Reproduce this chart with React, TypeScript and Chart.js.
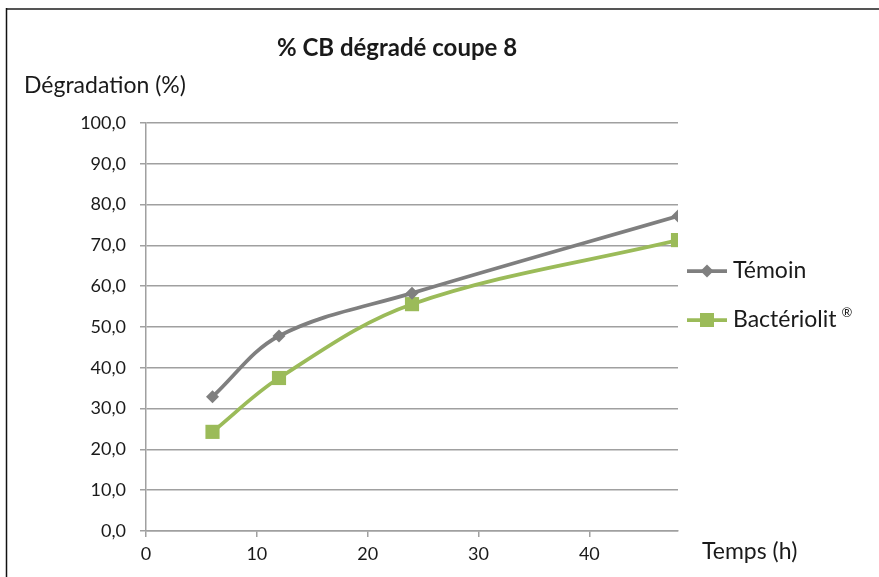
import React, { useEffect, useRef } from 'react';
import { Chart, registerables } from 'chart.js';

Chart.register(...registerables);

const chartTitle = '% CB dégradé coupe 8';
const yAxisTitle = 'Dégradation (%)';
const xAxisTitle = 'Temps (h)';
const hours = [6, 12, 24, 48];
const temoin = [32.9, 47.8, 58.3, 77.2];
const bacteriolit = [24.3, 37.5, 55.6, 71.3];
const seriesNames = ['Témoin', 'Bactériolit'];
const xTickValues = [0, 10, 20, 30, 40];

const GRAY = '#7f7f7f';
const GREEN = '#9bbb59';
const FONT = 'Lato, "Open Sans", sans-serif';
const TEXT = '#1a1a1a';

const overlay = {
  id: 'overlay',
  afterDraw(chart: any) {
    const ctx = chart.ctx;
    ctx.save();
    // frame
    ctx.strokeStyle = '#555';
    ctx.lineWidth = 2;
    ctx.beginPath();
    ctx.moveTo(6, 9);
    ctx.lineTo(879, 9);
    ctx.stroke();
    ctx.strokeStyle = '#111';
    ctx.lineWidth = 1.5;
    ctx.beginPath();
    ctx.moveTo(6.5, 8);
    ctx.lineTo(6.5, 577);
    ctx.stroke();

    ctx.fillStyle = TEXT;
    ctx.textBaseline = 'middle';
    // title
    ctx.font = `bold 24px ${FONT}`;
    ctx.textAlign = 'center';
    ctx.fillText(chartTitle, 397, 48);
    // axis titles
    ctx.font = `23px ${FONT}`;
    ctx.textAlign = 'left';
    ctx.fillText(yAxisTitle, 24, 86);
    ctx.fillText(xAxisTitle, 702, 552);

    // legend
    const items = [
      { name: seriesNames[0], color: GRAY, y: 271, style: 'rectRot', r: 6.5 },
      { name: seriesNames[1], color: GREEN, y: 320, style: 'rect', r: 10 },
    ];
    items.forEach((it, i) => {
      ctx.strokeStyle = it.color;
      ctx.lineWidth = 3.75;
      ctx.beginPath();
      ctx.moveTo(687, it.y);
      ctx.lineTo(727, it.y);
      ctx.stroke();
      ctx.fillStyle = it.color;
      if (it.style === 'rect') {
        ctx.fillRect(707 - 7, it.y - 7, 14, 14);
      } else {
        ctx.beginPath();
        ctx.moveTo(707, it.y - it.r);
        ctx.lineTo(707 + it.r, it.y);
        ctx.lineTo(707, it.y + it.r);
        ctx.lineTo(707 - it.r, it.y);
        ctx.closePath();
        ctx.fill();
      }
      ctx.fillStyle = TEXT;
      ctx.font = `23px ${FONT}`;
      ctx.textAlign = 'left';
      ctx.fillText(it.name, 733, it.y);
      if (i === 1) {
        const w = ctx.measureText(it.name).width;
        ctx.font = `13px ${FONT}`;
        ctx.fillText('®', 733 + w + 5, it.y - 7);
      }
    });
    ctx.restore();
  },
};

export default function App() {
  const ref = useRef<HTMLCanvasElement>(null);
  useEffect(() => {
    if (!ref.current) return;
    const chart = new Chart(ref.current, {
      type: 'line',
      data: {
        datasets: [
          {
            label: seriesNames[0],
            data: hours.map((h, i) => ({ x: h, y: temoin[i] })),
            borderColor: GRAY,
            backgroundColor: GRAY,
            borderWidth: 3.75,
            pointStyle: 'rectRot',
            pointRadius: 6.5,
            pointBorderWidth: 0,
            tension: 0.35,
          },
          {
            label: seriesNames[1],
            data: hours.map((h, i) => ({ x: h, y: bacteriolit[i] })),
            borderColor: GREEN,
            backgroundColor: GREEN,
            borderWidth: 3.75,
            pointStyle: 'rect',
            pointRadius: 10,
            pointBorderWidth: 0,
            tension: 0.35,
          },
        ],
      },
      options: {
        animation: false,
        responsive: false,
        layout: { padding: { left: 0, right: 201, top: 123, bottom: 0 } },
        plugins: {
          legend: { display: false },
          title: { display: false },
          tooltip: { enabled: false },
        },
        scales: {
          x: {
            type: 'linear',
            min: 0,
            max: 48,
            afterBuildTicks: (scale: any) => {
              scale.ticks = xTickValues.map((v) => ({ value: v }));
            },
            afterFit: (scale: any) => {
              scale.height = 46;
            },
            grid: {
              drawOnChartArea: false,
              drawTicks: true,
              tickLength: 6,
              color: '#a0a0a0',
              lineWidth: 1.5,
            },
            border: { color: '#a0a0a0', width: 1.5 },
            ticks: {
              padding: 6,
              color: TEXT,
              font: { family: FONT, size: 18 },
              maxRotation: 0,
              callback: (v: any) => String(v),
            },
          },
          y: {
            min: 0,
            max: 100,
            afterFit: (scale: any) => {
              scale.width = 146;
            },
            grid: {
              drawTicks: true,
              tickLength: 6,
              color: '#a0a0a0',
              lineWidth: 1.5,
            },
            border: { color: '#a0a0a0', width: 1.5 },
            ticks: {
              stepSize: 10,
              padding: 14,
              color: TEXT,
              font: { family: FONT, size: 18 },
              callback: (v: any) => Number(v).toFixed(1).replace('.', ','),
            },
          },
        },
      },
      plugins: [overlay],
    });
    return () => chart.destroy();
  }, []);
  return (
    <div style={{ position: 'fixed', left: 0, top: 0, width: 879, height: 577, background: '#fff' }}>
      <canvas ref={ref} width={879} height={577} style={{ display: 'block' }} />
    </div>
  );
}
